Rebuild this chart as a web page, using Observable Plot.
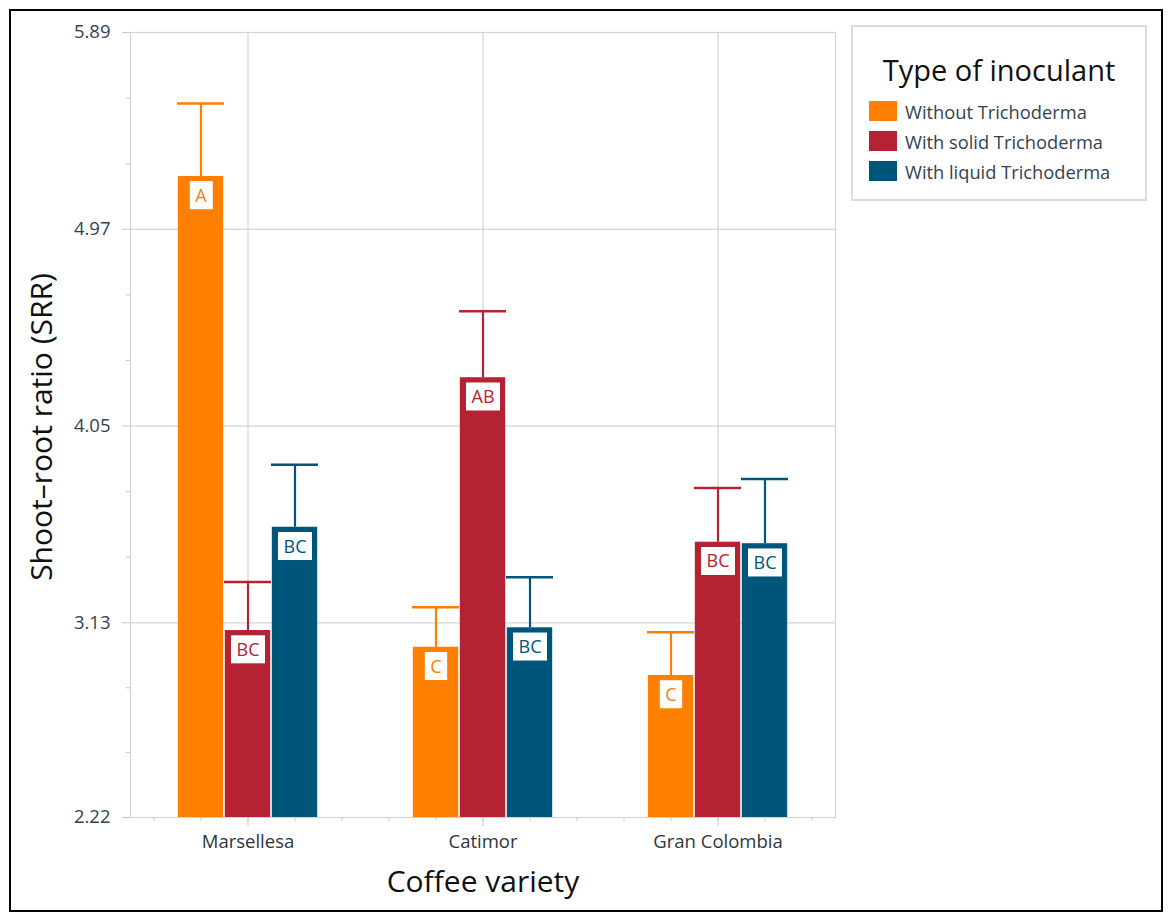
<!DOCTYPE html>
<html>
<head>
<meta charset="utf-8">
<script src="https://cdn.jsdelivr.net/npm/d3@7"></script>
<script src="https://cdn.jsdelivr.net/npm/@observablehq/plot@0.6"></script>
<style>
  html, body { margin: 0; padding: 0; background: #fff; }
  #page { position: relative; width: 1172px; height: 920px; overflow: hidden; font-family: "Open Sans", sans-serif; }
  #chart { position: absolute; left: 0; top: 0; }
  #frame { position: absolute; left: 9px; top: 9px; width: 1154px; height: 903px; box-sizing: border-box; border: 2.5px solid #000; pointer-events: none; }
  #legend { position: absolute; left: 851px; top: 25px; width: 296px; height: 176px; box-sizing: border-box; border: 2px solid #dcdcdc; background: #fff; }
  #legend .title { position: absolute; left: 0; width: 100%; top: 28px; text-align: center; font-size: 29px; color: #111; line-height: 29px; white-space: nowrap; }
  #legend .item { position: absolute; left: 16px; height: 20px; display: flex; align-items: center; font-size: 18.3px; color: #34424f; white-space: nowrap; }
  #legend .sw { width: 28px; height: 20px; margin-right: 8px; flex: none; }
</style>
</head>
<body>
<div id="page">
  <div id="chart"></div>
  <div id="legend"></div>
  <div id="frame"></div>
</div>
<script>
// ---- data ----
const varieties = ["Marsellesa", "Catimor", "Gran Colombia"];
const inoculants = ["Without Trichoderma", "With solid Trichoderma", "With liquid Trichoderma"];
const colors = ["#ff8000", "#b52233", "#00567a"];
const withoutMean = [5.217, 3.016, 2.884];
const solidMean   = [3.094, 4.276, 3.507];
const liquidMean  = [3.577, 3.107, 3.500];
const withoutSE = [0.341, 0.187, 0.202];
const solidSE   = [0.227, 0.311, 0.254];
const liquidSE  = [0.292, 0.236, 0.303];
const withoutLetters = ["A", "C", "C"];
const solidLetters   = ["BC", "AB", "BC"];
const liquidLetters  = ["BC", "BC", "BC"];
const yTicks = [2.22, 3.13, 4.05, 4.97, 5.89];
const yTickLabels = ["2.22", "3.13", "4.05", "4.97", "5.89"];

// ---- table ----
const means = [withoutMean, solidMean, liquidMean];
const ses = [withoutSE, solidSE, liquidSE];
const letters = [withoutLetters, solidLetters, liquidLetters];
const slotsPerGroup = 5;
const rows = [];
varieties.forEach((v, ci) => {
  inoculants.forEach((s, si) => {
    const slot = ci * slotsPerGroup + 1 + si;
    rows.push({variety: v, inoculant: s, slot, mean: means[si][ci], top: means[si][ci] + ses[si][ci], letter: letters[si][ci]});
  });
});
const nSlots = varieties.length * slotsPerGroup;
const slotCenters = d3.range(nSlots).map(i => i + 0.5);
const groupCenters = varieties.map((v, i) => i * slotsPerGroup + slotsPerGroup / 2);
const yMin = yTicks[0], yMax = yTicks[yTicks.length - 1];
const yMinor = [];
for (let i = 0; i < yTicks.length - 1; i++) {
  const a = yTicks[i], b = yTicks[i + 1];
  yMinor.push(a + (b - a) / 3, a + 2 * (b - a) / 3);
}

const grid = "#d4d4d4";
const font = "Open Sans";
const labelSize = 18;

const svg = Plot.plot({
  width: 1172,
  height: 920,
  marginLeft: 130,
  marginRight: 337,
  marginTop: 32,
  marginBottom: 103,
  style: {fontFamily: font, background: "transparent", overflow: "visible"},
  x: {type: "linear", domain: [0, nSlots], axis: null},
  y: {domain: [yMin, yMax], axis: null},
  color: {domain: inoculants, range: colors},
  marks: [
    Plot.gridY(yTicks, {stroke: grid, strokeOpacity: 1, strokeWidth: 1.2}),
    Plot.gridX(groupCenters, {stroke: grid, strokeOpacity: 1, strokeWidth: 1.2}),
    Plot.frame({stroke: grid, strokeWidth: 1.2}),
    Plot.axisY(yMinor, {tickSize: 4, stroke: "#c8c8c8", tickFormat: () => ""}),
    Plot.axisY(yTicks, {tickSize: 8, tickPadding: 12, stroke: "#c8c8c8", fill: "#34424f", fontSize: 18.5, fontFamily: font,
      tickFormat: d => yTickLabels[yTicks.indexOf(d)], label: null}),
    Plot.axisX(slotCenters, {tickSize: 4, stroke: "#c8c8c8", tickFormat: () => "", label: null}),
    Plot.axisX(groupCenters, {tickSize: 9, tickPadding: 8, stroke: "#c8c8c8", fill: "#2e3640", fontSize: 18.5, fontFamily: font,
      tickFormat: d => varieties[groupCenters.indexOf(d)], label: null}),
    Plot.rectY(rows, {x1: "slot", x2: d => d.slot + 1, y1: yMin, y2: "mean", fill: "inoculant", insetLeft: 0.8, insetRight: 0.8}),
    Plot.ruleX(rows, {x: d => d.slot + 0.5, y1: "mean", y2: "top", stroke: "inoculant", strokeWidth: 2.2}),
    Plot.ruleY(rows, {y: "top", x1: "slot", x2: d => d.slot + 1, stroke: "inoculant", strokeWidth: 2.5}),
    Plot.text(rows, {x: d => d.slot + 0.5, y: "mean", text: "letter", dy: 19.5, fill: "inoculant", fontSize: labelSize, fontFamily: font}),
    Plot.text(["Coffee variety"], {frameAnchor: "bottom", dy: 74, fontSize: 30, fill: "#111", fontFamily: font}),
    Plot.text(["Shoot\u2013root ratio (SRR)"], {frameAnchor: "left", textAnchor: "middle", dx: -88, dy: 2, rotate: -90, fontSize: 30, fill: "#111", fontFamily: font})
  ]
});
document.getElementById("chart").appendChild(svg);

// white boxes behind the letter labels (inside the bars)
const ns = "http://www.w3.org/2000/svg";
const letterSet = new Set([...withoutLetters, ...solidLetters, ...liquidLetters]);
Array.from(svg.querySelectorAll('g[aria-label="text"] text'))
  .filter(t => letterSet.has(t.textContent))
  .forEach(t => {
    const b = t.getBBox();
    const r = document.createElementNS(ns, "rect");
    const h = 28, padX = 5.5;
    const cy = b.y + b.height / 2 + 0.5;
    r.setAttribute("x", b.x - padX);
    r.setAttribute("width", b.width + 2 * padX);
    r.setAttribute("y", cy - h / 2);
    r.setAttribute("height", h);
    r.setAttribute("fill", "#fff");
    const tr = t.getAttribute("transform");
    if (tr) r.setAttribute("transform", tr);
    t.parentNode.insertBefore(r, t);
  });

// legend
const legend = document.getElementById("legend");
const title = document.createElement("div");
title.className = "title";
title.textContent = "Type of inoculant";
legend.appendChild(title);
inoculants.forEach((s, i) => {
  const item = document.createElement("div");
  item.className = "item";
  item.style.top = (74 + i * 30) + "px";
  const sw = document.createElement("span");
  sw.className = "sw";
  sw.style.background = colors[i];
  item.appendChild(sw);
  item.appendChild(document.createTextNode(s));
  legend.appendChild(item);
});
</script>
</body>
</html>
